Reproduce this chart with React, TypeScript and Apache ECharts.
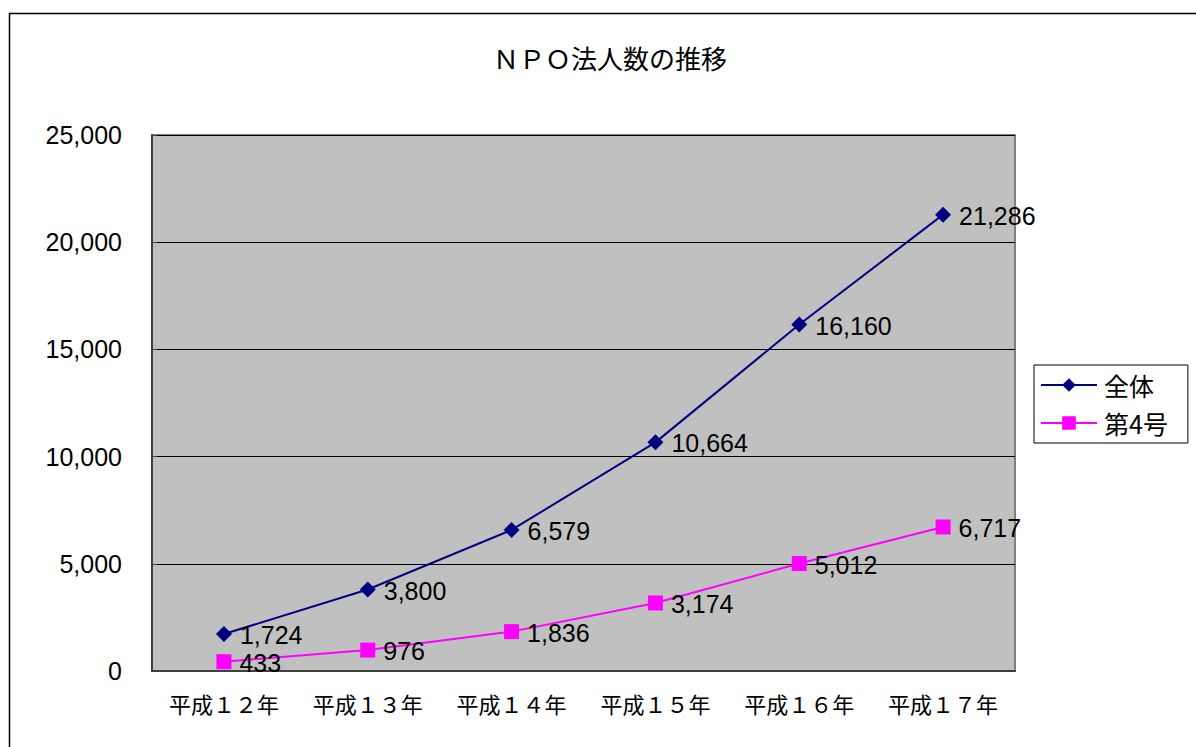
import React, { useEffect, useRef } from "react";
import * as echarts from "echarts";

const categories = ["平成１２年", "平成１３年", "平成１４年", "平成１５年", "平成１６年", "平成１７年"];
const totalValues = [1724, 3800, 6579, 10664, 16160, 21286];
const no4Values = [433, 976, 1836, 3174, 5012, 6717];
const seriesNames = ["全体", "第4号"];
const titleText = "ＮＰＯ法人数の推移";

const numFont = "'Liberation Sans', Arial, sans-serif";
const cjkFont = "'Noto Sans CJK JP', sans-serif";

export default function App() {
  const ref = useRef<HTMLDivElement>(null);
  useEffect(() => {
    if (!ref.current) return;
    const chart = echarts.init(ref.current, null, { renderer: "svg" });
    const fmt = (v: number) => v.toLocaleString("en-US");
    chart.setOption({
      animation: false,
      backgroundColor: "#ffffff",
      graphic: [
        {
          type: "rect",
          shape: { x: 9.5, y: 13.5, width: 1200, height: 760 },
          style: { fill: "none", stroke: "#000", lineWidth: 1.5 },
          silent: true,
        },
      ],
      title: {
        text: titleText,
        left: 605,
        top: 39,
        textAlign: "center",
        textStyle: { fontFamily: cjkFont, fontSize: 26, fontWeight: "normal", color: "#000" },
      },
      grid: {
        left: 152,
        top: 135,
        width: 863,
        height: 536,
        show: true,
        backgroundColor: "#C0C0C0",
        borderColor: "#808080",
        borderWidth: 2,
      },
      legend: {
        orient: "vertical",
        left: 1034,
        top: 365,
        padding: [5, 20, 5, 6],
        itemGap: 8,
        itemWidth: 56,
        itemHeight: 17,
        backgroundColor: "#fff",
        borderColor: "#000",
        borderWidth: 1,
        textStyle: { fontFamily: cjkFont, fontSize: 25, lineHeight: 30, color: "#000", padding: [0, 0, 0, 2] },
        data: seriesNames,
      },
      xAxis: {
        type: "category",
        data: categories,
        boundaryGap: true,
        axisLine: { lineStyle: { color: "#404040", width: 2 } },
        axisTick: { inside: true, length: 6, interval: 0, lineStyle: { color: "#404040" } },
        axisLabel: { fontFamily: cjkFont, fontSize: 22, color: "#000", margin: 21, interval: 0 },
      },
      yAxis: {
        type: "value",
        min: 0,
        max: 25000,
        interval: 5000,
        axisLine: { show: true, lineStyle: { color: "#404040", width: 2 } },
        axisTick: { show: true, inside: true, length: 5, lineStyle: { color: "#404040" } },
        splitLine: { lineStyle: { color: "#000", width: 1 } },
        axisLabel: { fontFamily: numFont, fontSize: 25, color: "#000", margin: 30, formatter: (v: number) => fmt(v) },
      },
      series: [
        {
          name: seriesNames[0],
          type: "line",
          data: totalValues,
          symbol: "diamond",
          symbolSize: 16,
          itemStyle: { color: "#000080" },
          lineStyle: { color: "#000080", width: 2 },
          label: {
            show: true,
            position: "right",
            distance: 8,
            offset: [0, 1],
            fontFamily: numFont,
            fontSize: 25,
            color: "#000",
            formatter: (p: any) => fmt(p.value),
          },
        },
        {
          name: seriesNames[1],
          type: "line",
          data: no4Values,
          symbol: "rect",
          symbolSize: 15,
          itemStyle: { color: "#FF00FF" },
          lineStyle: { color: "#FF00FF", width: 2 },
          label: {
            show: true,
            position: "right",
            distance: 8,
            offset: [0, 1],
            fontFamily: numFont,
            fontSize: 25,
            color: "#000",
            formatter: (p: any) => fmt(p.value),
          },
        },
      ],
    });
    return () => chart.dispose();
  }, []);
  return <div ref={ref} style={{ position: "fixed", left: 0, top: 0, width: 1196, height: 747 }} />;
}
